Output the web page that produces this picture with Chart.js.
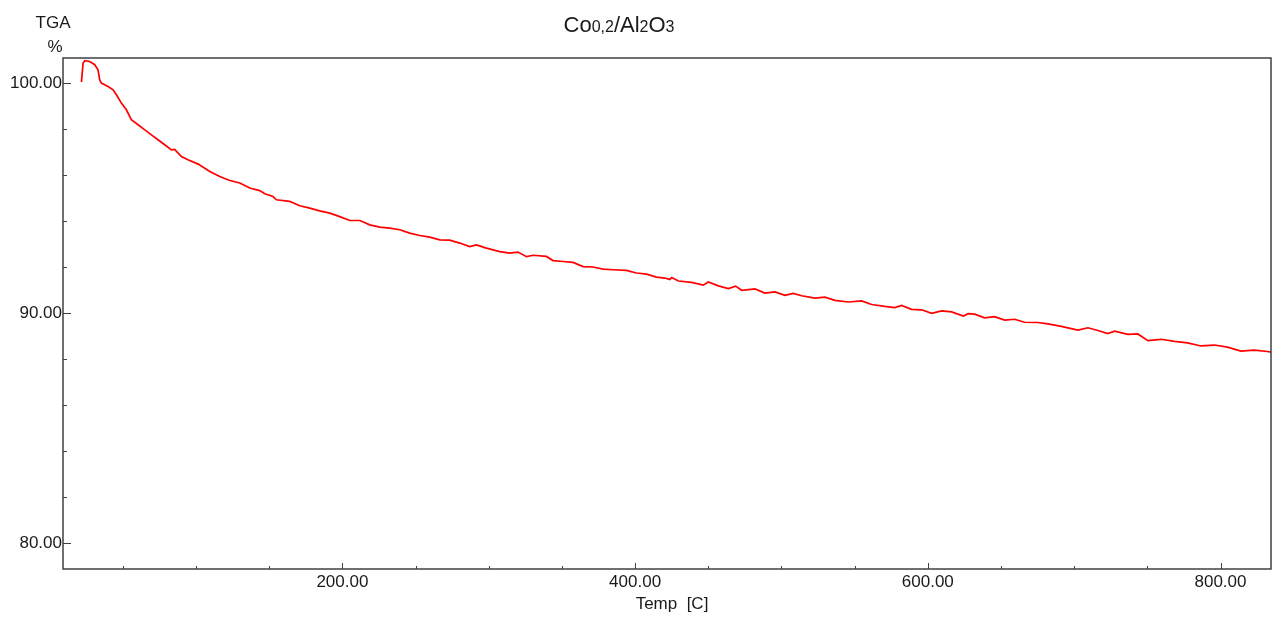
<!DOCTYPE html>
<html>
<head>
<meta charset="utf-8">
<title>TGA Co0,2/Al2O3</title>
<script src="https://cdn.jsdelivr.net/npm/chart.js@4.4.0/dist/chart.umd.min.js"></script>
<style>
    html, body { margin: 0; padding: 0; background: #fff; }
    #wrap { width: 1272px; height: 617px; position: relative; }
</style>
</head>
<body>
<div id="wrap"><canvas id="chartTga"></canvas></div>
<script>
// temperature [C]
var temps = [21.7, 22.8, 24.0, 27.3, 30.8, 33.0, 34.2, 35.3, 39.9, 43.3, 45.6, 49.0, 52.4, 55.8, 60.4, 65.0,
    69.5, 74.0, 78.6, 83.2, 85.4, 90.0, 94.5, 101.5, 109.4, 116.2, 123.1, 129.9, 136.7, 143.5, 147.0, 152.6,
    154.9, 164.0, 170.9, 177.7, 184.5, 191.4, 198.2, 205.1, 211.9, 218.7, 225.5, 232.4, 239.2, 246.0, 252.9,
    259.7, 266.5, 273.3, 280.2, 287.0, 291.6, 298.4, 307.5, 314.4, 320.0, 325.8, 330.3, 339.4, 343.9, 350.8,
    357.6, 364.5, 371.3, 378.1, 385.0, 394.1, 400.9, 407.8, 414.6, 420.3, 423.7, 425.0, 429.6, 438.6, 446.6,
    450.0, 456.9, 463.7, 468.7, 472.8, 481.9, 488.7, 495.6, 502.4, 508.1, 513.8, 522.9, 529.7, 536.5, 545.7,
    554.8, 561.6, 570.7, 577.5, 582.1, 588.9, 595.8, 602.6, 609.4, 616.3, 624.3, 627.6, 632.0, 638.8, 645.6,
    652.5, 659.3, 666.1, 675.2, 682.1, 691.2, 702.6, 709.4, 716.2, 723.0, 727.6, 736.7, 743.5, 750.4, 759.5,
    768.6, 777.5, 786.6, 795.8, 804.8, 813.9, 823.0, 832.1, 836.7];

// weight [%]
var weights = [100.04, 100.87, 100.97, 100.94, 100.80, 100.58, 100.14, 100.00, 99.85, 99.71, 99.49, 99.13, 98.84,
    98.41, 98.19, 97.97, 97.75, 97.54, 97.32, 97.10, 97.12, 96.81, 96.67, 96.48, 96.16, 95.94, 95.77, 95.66, 95.44,
    95.33, 95.19, 95.07, 94.93, 94.86, 94.67, 94.57, 94.45, 94.35, 94.20, 94.03, 94.03, 93.84, 93.74, 93.70, 93.63,
    93.48, 93.38, 93.31, 93.19, 93.18, 93.05, 92.90, 92.97, 92.83, 92.68, 92.61, 92.66, 92.46, 92.52, 92.47, 92.29,
    92.25, 92.21, 92.03, 92.01, 91.92, 91.89, 91.86, 91.75, 91.70, 91.57, 91.53, 91.47, 91.55, 91.40, 91.34, 91.22,
    91.36, 91.19, 91.07, 91.18, 91.00, 91.06, 90.88, 90.93, 90.78, 90.86, 90.76, 90.66, 90.70, 90.56, 90.49, 90.54,
    90.38, 90.30, 90.25, 90.34, 90.17, 90.15, 90.00, 90.10, 90.06, 89.88, 89.98, 89.96, 89.80, 89.85, 89.70, 89.74,
    89.61, 89.60, 89.54, 89.43, 89.27, 89.37, 89.25, 89.12, 89.22, 89.08, 89.10, 88.81, 88.87, 88.78, 88.71, 88.58,
    88.62, 88.53, 88.36, 88.40, 88.34, 88.28];

var xTicks = [200, 400, 600, 800];
var xMinorTicks = [50, 100, 150, 250, 300, 350, 450, 500, 550, 650, 700, 750];
var yTicks = [80, 90, 100];
var yMinorTicks = [82, 84, 86, 88, 92, 94, 96, 98];

var points = [];
for (var i = 0; i < temps.length; i++) {
    points.push({ x: temps[i], y: weights[i] });
}

var axisColor = '#404040';
var textColor = '#1a1a1a';
var fontFamily = '"Liberation Sans", Arial, sans-serif';

// frame, inward ticks and the extra labels
var decor = {
    id: 'decor',
    afterDraw: function (chart) {
        var ctx = chart.ctx;
        var area = chart.chartArea;
        var xs = chart.scales.x;
        var ys = chart.scales.y;

        ctx.save();
        ctx.strokeStyle = axisColor;
        ctx.lineWidth = 1.5;
        ctx.strokeRect(area.left, area.top, area.right - area.left, area.bottom - area.top);

        ctx.lineWidth = 1;
        ctx.beginPath();
        xTicks.forEach(function (v) {
            var px = Math.round(xs.getPixelForValue(v)) + 0.5;
            ctx.moveTo(px, area.bottom);
            ctx.lineTo(px, area.bottom - 6);
        });
        xMinorTicks.forEach(function (v) {
            var px = Math.round(xs.getPixelForValue(v)) + 0.5;
            if (px < area.left + 2) return;
            ctx.moveTo(px, area.bottom);
            ctx.lineTo(px, area.bottom - 3);
        });
        yTicks.forEach(function (v) {
            var py = Math.round(ys.getPixelForValue(v)) + 0.5;
            ctx.moveTo(area.left, py);
            ctx.lineTo(area.left + 8, py);
        });
        yMinorTicks.forEach(function (v) {
            var py = Math.round(ys.getPixelForValue(v)) + 0.5;
            ctx.moveTo(area.left, py);
            ctx.lineTo(area.left + 4, py);
        });
        ctx.stroke();

        ctx.fillStyle = textColor;
        ctx.textBaseline = 'alphabetic';

        // title with small digits: Co0,2/Al2O3
        var parts = [['Co', 22], ['0,2', 16], ['/Al', 22], ['2', 16], ['O', 22], ['3', 16]];
        var total = 0;
        parts.forEach(function (p) {
            ctx.font = p[1] + 'px ' + fontFamily;
            total += ctx.measureText(p[0]).width;
        });
        var tx = 619 - total / 2;
        ctx.textAlign = 'left';
        parts.forEach(function (p) {
            ctx.font = p[1] + 'px ' + fontFamily;
            ctx.fillText(p[0], tx, 32);
            tx += ctx.measureText(p[0]).width;
        });

        ctx.textAlign = 'center';
        ctx.font = '17px ' + fontFamily;
        ctx.fillText('TGA', 53, 28);
        ctx.fillText('%', 55, 52);
        ctx.fillText('Temp  [C]', 672, 609);
        ctx.restore();
    }
};

var ctx = document.getElementById('chartTga').getContext('2d');
var tgaChart = new Chart(ctx, {
    type: 'line',
    data: {
        datasets: [{
            data: points,
            borderColor: '#ff0000',
            borderWidth: 1.7,
            pointRadius: 0,
            tension: 0,
            fill: false
        }]
    },
    options: {
        responsive: true,
        maintainAspectRatio: false,
        animation: false,
        layout: { padding: { top: 58, right: 1, bottom: 0, left: 0 } },
        plugins: {
            legend: { display: false },
            tooltip: { enabled: false },
            title: { display: false }
        },
        scales: {
            x: {
                type: 'linear',
                min: 9.1,
                max: 834.5,
                grid: { display: false, drawTicks: false },
                border: { display: false },
                afterBuildTicks: function (scale) {
                    scale.ticks = xTicks.map(function (v) { return { value: v }; });
                },
                afterFit: function (scale) { scale.height = 48; },
                ticks: {
                    padding: 3,
                    color: textColor,
                    font: { family: fontFamily, size: 17 },
                    maxRotation: 0,
                    callback: function (v) { return v.toFixed(2); }
                }
            },
            y: {
                type: 'linear',
                min: 78.89,
                max: 101.09,
                grid: { display: false, drawTicks: false },
                border: { display: false },
                afterBuildTicks: function (scale) {
                    scale.ticks = yTicks.map(function (v) { return { value: v }; });
                },
                afterFit: function (scale) { scale.width = 63; },
                ticks: {
                    padding: 1,
                    color: textColor,
                    font: { family: fontFamily, size: 17 },
                    callback: function (v) { return v.toFixed(2); }
                }
            }
        }
    },
    plugins: [decor]
});
</script>
</body>
</html>
